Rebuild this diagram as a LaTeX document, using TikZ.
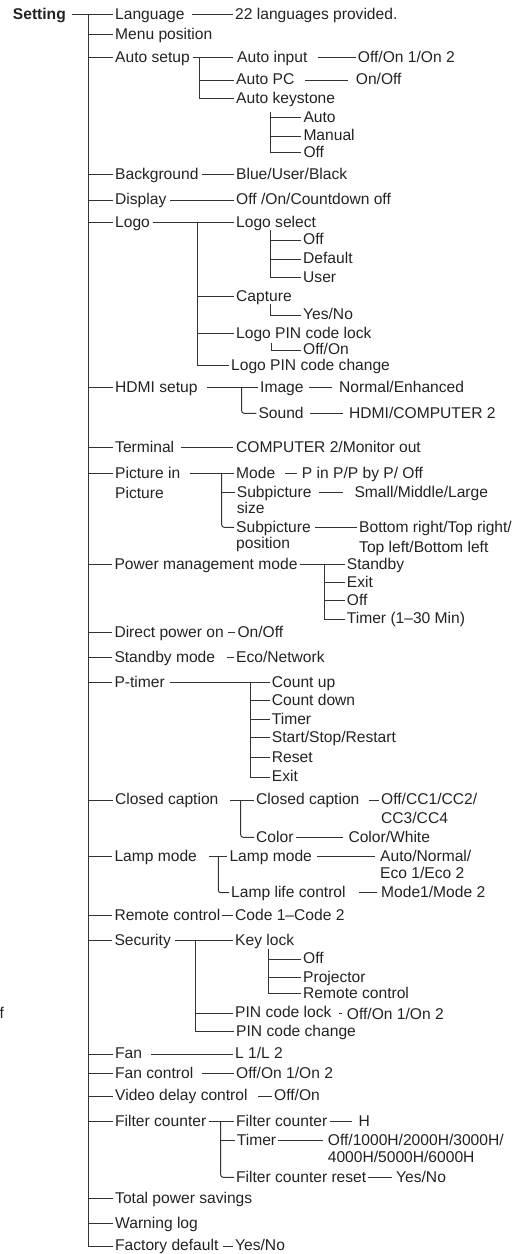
\documentclass[tikz,border=0pt]{standalone}
\usepackage{fontspec}
\setmainfont{Liberation Sans}
\usepackage{xcolor}
\usepackage{tikz}
\definecolor{menuInk}{HTML}{232323}
\definecolor{menuRule}{HTML}{333333}
\newcommand{\menufont}{\fontsize{15.6pt}{17.5pt}\selectfont}
\newcommand{\twolines}[3][0pt]{\begin{tabular}[t]{@{}l@{}}#2\\[#1]#3\end{tabular}}

\begin{document}
\begin{tikzpicture}[
  x=1pt, y=-1pt,
  item/.style={anchor=west, inner xsep=2pt, inner ysep=0pt, text height=9.4pt, text depth=0pt, text=menuInk, font=\menufont},
  root/.style={item, anchor=east, font=\menufont\bfseries},
  link/.style={draw=menuRule, line width=1pt},
  elbow/.style={link, rounded corners=2.5pt}
]
\useasboundingbox (0,0) rectangle (527,1254);

% Root and trunk
\node[root] (setting) at (68,14.3) {Setting};
\coordinate (trunk) at (88.3,14.3);

% First level
\node[item] (lang) at (113,14.3) {Language};
\node[item] (menupos) at (113,34.3) {Menu position};
\node[item] (autosetup) at (113,57.3) {Auto setup};
\node[item] (backgr) at (113,174.3) {Background};
\node[item] (display) at (113,200) {Display};
\node[item] (logo) at (113,222.7) {Logo};
\node[item] (hdmi) at (113,387.3) {HDMI setup};
\node[item] (terminal) at (113,447.7) {Terminal};
\node[item] (pip) at (113,473.3) {\twolines[2.5pt]{Picture in}{Picture}};
\node[item] (powermgmt) at (112.3,564.3) {Power management mode};
\node[item] (directon) at (112.3,632.3) {Direct power on};
\node[item] (standby) at (112.3,657.3) {Standby mode};
\node[item] (ptimer) at (112.3,682.3) {P-timer};
\node[item] (ccap) at (113,800) {Closed caption};
\node[item] (lamp) at (112.3,856.7) {Lamp mode};
\node[item] (remote) at (112.3,915.7) {Remote control};
\node[item] (security) at (112.3,940.7) {Security};
\node[item] (fan) at (113,1054) {Fan};
\node[item] (fanctl) at (113,1073.3) {Fan control};
\node[item] (videodelay) at (113,1096) {Video delay control};
\node[item] (filter) at (113,1121.7) {Filter counter};
\node[item] (totalpower) at (113,1198.3) {Total power savings};
\node[item] (warnlog) at (113,1223.3) {Warning log};
\node[item] (factory) at (113,1246) {Factory default};

\draw[link, shorten <=3.7pt] (setting.east) -- (lang.west);
\draw[link] (trunk) |- (factory.west);
\draw[link] (trunk |- menupos.west) -- (menupos.west);
\draw[link] (trunk |- autosetup.west) -- (autosetup.west);
\draw[link] (trunk |- backgr.west) -- (backgr.west);
\draw[link] (trunk |- display.west) -- (display.west);
\draw[link] (trunk |- logo.west) -- (logo.west);
\draw[link] (trunk |- hdmi.west) -- (hdmi.west);
\draw[link] (trunk |- terminal.west) -- (terminal.west);
\draw[link] (trunk |- pip.west) -- (pip.west);
\draw[link] (trunk |- powermgmt.west) -- (powermgmt.west);
\draw[link] (trunk |- directon.west) -- (directon.west);
\draw[link] (trunk |- standby.west) -- (standby.west);
\draw[link] (trunk |- ptimer.west) -- (ptimer.west);
\draw[link] (trunk |- ccap.west) -- (ccap.west);
\draw[link] (trunk |- lamp.west) -- (lamp.west);
\draw[link] (trunk |- remote.west) -- (remote.west);
\draw[link] (trunk |- security.west) -- (security.west);
\draw[link] (trunk |- fan.west) -- (fan.west);
\draw[link] (trunk |- fanctl.west) -- (fanctl.west);
\draw[link] (trunk |- videodelay.west) -- (videodelay.west);
\draw[link] (trunk |- filter.west) -- (filter.west);
\draw[link] (trunk |- totalpower.west) -- (totalpower.west);
\draw[link] (trunk |- warnlog.west) -- (warnlog.west);

% Single values
\node[item] (langval) at (233,14.3) {22 languages provided.};
\draw[link, shorten <=5.3pt] (lang.east) -- (langval.west);
\node[item] (backval) at (234,174.3) {Blue/User/Black};
\draw[link, shorten <=1.2pt] (backgr.east) -- (backval.west);
\node[item] (dispval) at (234,200) {Off /On/Countdown off};
\draw[link, shorten <=1.5pt] (display.east) -- (dispval.west);
\node[item] (termval) at (234,447.7) {COMPUTER 2/Monitor out};
\draw[link, shorten <=5pt, shorten >=1.3pt] (terminal.east) -- (termval.west);
\node[item] (directval) at (235.3,632.3) {On/Off};
\draw[link, shorten <=2pt] (directon.east) -- (directval.west);
\node[item] (standbyval) at (234,657.3) {Eco/Network};
\draw[link, shorten <=9.4pt] (standby.east) -- (standbyval.west);
\node[item] (remoteval) at (233,915.7) {Code 1–Code 2};
\draw[link] (remote.east) -- (remoteval.west);
\node[item] (fanval) at (233,1054) {L 1/L 2};
\draw[link, shorten <=6.8pt] (fan.east) -- (fanval.west);
\node[item] (fanctlval) at (234,1073.3) {Off/On 1/On 2};
\draw[link, shorten <=6.7pt] (fanctl.east) -- (fanctlval.west);
\node[item] (videoval) at (272,1096) {Off/On};
\draw[link, shorten <=8pt] (videodelay.east) -- (videoval.west);
\node[item] (factoryval) at (233,1246) {Yes/No};
\draw[link, shorten <=2.5pt] (factory.east) -- (factoryval.west);

% Auto setup
\node[item] (autoinput) at (235,57.3) {Auto input};
\node[item] (autopc) at (234,80) {Auto PC};
\node[item] (autokey) at (234,98.3) {Auto keystone};
\coordinate (setupfork) at (199,57.3);
\draw[link, shorten <=1.5pt, shorten >=2pt] (autosetup.east) -- (autoinput.west);
\draw[link] (setupfork |- autopc.west) -- (autopc.west);
\draw[link] (setupfork) |- (autokey.west);
\node[item] (autoinputval) at (355.7,57.3) {Off/On 1/On 2};
\draw[link, shorten <=8.8pt] (autoinput.east) -- (autoinputval.west);
\node[item] (autopcval) at (353.7,80) {On/Off};
\draw[link, shorten <=8.9pt, shorten >=5.7pt] (autopc.east) -- (autopcval.west);
\node[item] (keyauto) at (301.3,117.3) {Auto};
\node[item] (keymanual) at (301.3,136) {Manual};
\node[item] (keyoff) at (301.3,152.7) {Off};
\coordinate (keyfork) at (270.7,111.7);
\draw[link] (keyfork) |- (keyoff.west);
\draw[link] (keyfork |- keyauto.west) -- (keyauto.west);
\draw[link] (keyfork |- keymanual.west) -- (keymanual.west);

% Logo
\node[item] (logosel) at (234,222.7) {Logo select};
\node[item] (capture) at (234,296.7) {Capture};
\node[item] (logopin) at (234,333.3) {Logo PIN code lock};
\node[item] (logopinchg) at (229,365.7) {Logo PIN code change};
\coordinate (logofork) at (197.3,222.7);
\draw[link, shorten <=0.8pt] (logo.east) -- (logosel.west);
\draw[link] (logofork |- capture.west) -- (capture.west);
\draw[link] (logofork |- logopin.west) -- (logopin.west);
\draw[link] (logofork) |- (logopinchg.west);
\node[item] (lsoff) at (301,240) {Off};
\node[item] (lsdefault) at (301,259) {Default};
\node[item] (lsuser) at (301,277.7) {User};
\coordinate (selfork) at (270,230);
\draw[link] (selfork) |- (lsuser.west);
\draw[link] (selfork |- lsoff.west) -- (lsoff.west);
\draw[link] (selfork |- lsdefault.west) -- (lsdefault.west);
\node[item] (capyes) at (301,315) {Yes/No};
\coordinate (capfork) at (270.7,304);
\draw[link] (capfork) |- (capyes.west);
\node[item] (logopinval) at (301,350) {Off/On};
\coordinate (lockfork) at (271.7,342.7);
\draw[link] (lockfork) |- (logopinval.west);

% HDMI setup
\node[item] (hdmiimg) at (258,387.3) {Image};
\node[item] (hdmisnd) at (256.3,413.3) {Sound};
\coordinate (hdmifork) at (241.7,387.3);
\draw[link, shorten <=7.4pt] (hdmi.east) -- (hdmiimg.west);
\draw[elbow] (hdmifork) |- (hdmisnd.west);
\node[item] (imgval) at (337,387.3) {Normal/Enhanced};
\draw[link, shorten <=3.6pt, shorten >=4.7pt] (hdmiimg.east) -- (imgval.west);
\node[item] (sndval) at (347,413.3) {HDMI/COMPUTER 2};
\draw[link, shorten <=4.6pt, shorten >=3.7pt] (hdmisnd.east) -- (sndval.west);

% Picture in Picture
\node[item] (pipmode) at (234,473.3) {Mode};
\node[item] (pipsize) at (234.7,492.3) {\twolines[-0.8pt]{Subpicture}{size}};
\node[item] (pippos) at (234,527.3) {\twolines[-1.5pt]{Subpicture}{position}};
\coordinate (pipfork) at (221.7,473.3);
\draw[link, shorten <=7.6pt] (pip.east) -- (pipmode.west);
\draw[link] (pipfork |- pipsize.west) -- (pipsize.west);
\draw[elbow] (pipfork) |- (pippos.west);
\node[item] (modeval) at (299.7,473.3) {P in P/P by P/ Off};
\draw[link, shorten <=8pt, shorten >=3pt] (pipmode.east) -- (modeval.west);
\node[item] (sizeval) at (352.3,492.3) {Small/Middle/Large};
\draw[link, shorten <=5pt, shorten >=9pt] (pipsize.east) -- (sizeval.west);
\node[item] (posval) at (357,527.3) {\twolines[2.9pt]{Bottom right/Top right/}{Top left/Bottom left}};
\draw[link, shorten <=2.4pt] (pippos.east) -- (posval.west);

% Power management mode
\node[item] (pmstandby) at (344.7,564.3) {Standby};
\node[item] (pmexit) at (344.7,582.3) {Exit};
\node[item] (pmoff) at (344.7,600.7) {Off};
\node[item] (pmtimer) at (344.7,619) {Timer (1–30 Min)};
\coordinate (pmfork) at (324,564.3);
\draw[link] (powermgmt.east) -- (pmstandby.west);
\draw[link] (pmfork |- pmexit.west) -- (pmexit.west);
\draw[link] (pmfork |- pmoff.west) -- (pmoff.west);
\draw[link] (pmfork) |- (pmtimer.west);

% P-timer
\node[item] (ptup) at (269.7,682.3) {Count up};
\node[item] (ptdown) at (269.7,700.7) {Count down};
\node[item] (pttimer) at (269.7,719.3) {Timer};
\node[item] (ptstart) at (269.7,737.5) {Start/Stop/Restart};
\node[item] (ptreset) at (269.7,757.5) {Reset};
\node[item] (ptexit) at (269.7,777) {Exit};
\coordinate (ptfork) at (250,682.3);
\draw[link, shorten <=2.7pt] (ptimer.east) -- (ptup.west);
\draw[link] (ptfork |- ptdown.west) -- (ptdown.west);
\draw[link] (ptfork |- pttimer.west) -- (pttimer.west);
\draw[link] (ptfork |- ptstart.west) -- (ptstart.west);
\draw[link] (ptfork |- ptreset.west) -- (ptreset.west);
\draw[link] (ptfork) |- (ptexit.west);

% Closed caption
\node[item] (ccsub) at (254,800) {Closed caption};
\node[item] (cccolor) at (254,837.3) {Color};
\coordinate (ccfork) at (240.7,800);
\draw[link, shorten <=9.8pt] (ccap.east) -- (ccsub.west);
\draw[elbow] (ccfork) |- (cccolor.west);
\node[item] (ccsubval) at (379,800) {\twolines[1pt]{Off/CC1/CC2/}{CC3/CC4}};
\draw[link, shorten <=7.1pt] (ccsub.east) -- (ccsubval.west);
\node[item] (colorval) at (346.3,837.3) {Color/White};
\draw[link, shorten <=0.4pt, shorten >=3pt] (cccolor.east) -- (colorval.west);

% Lamp mode
\node[item] (lampsub) at (227.3,856.7) {Lamp mode};
\node[item] (lamplife) at (229,892.7) {Lamp life control};
\coordinate (lampfork) at (218.3,856.7);
\draw[link, shorten <=9.6pt] (lamp.east) -- (lampsub.west);
\draw[elbow] (lampfork) |- (lamplife.west);
\node[item] (lampsubval) at (378,856.7) {\twolines{Auto/Normal/}{Eco 1/Eco 2}};
\draw[link, shorten <=3pt, shorten >=3pt] (lampsub.east) -- (lampsubval.west);
\node[item] (lamplifeval) at (379,892.7) {Mode1/Mode 2};
\draw[link, shorten <=11.6pt, shorten >=2.3pt] (lamplife.east) -- (lamplifeval.west);

% Security
\node[item] (keylock) at (233,940.7) {Key lock};
\node[item] (pinlock) at (233,1013) {PIN code lock};
\node[item] (pinchange) at (234,1031.7) {PIN code change};
\coordinate (secfork) at (195.7,940.7);
\draw[link, shorten <=1.6pt] (security.east) -- (keylock.west);
\draw[link] (secfork |- pinlock.west) -- (pinlock.west);
\draw[link] (secfork) |- (pinchange.west);
\node[item] (klf) at (301,959) {Off};
\node[item] (klproj) at (301,977.3) {Projector};
\node[item] (klremote) at (301,993.3) {Remote control};
\coordinate (keylockfork) at (268.3,949.3);
\draw[link] (keylockfork) |- (klremote.west);
\draw[link] (keylockfork |- klf.west) -- (klf.west);
\draw[link] (keylockfork |- klproj.west) -- (klproj.west);
\node[item] (pinlockval) at (344.7,1014.8) {Off/On 1/On 2};
\draw[link, shorten <=5pt, shorten >=2.4pt] (pinlock.east) -- (pinlock.east -| pinlockval.west);
\node[item] (edgef) at (-2.5,1014) {f};

% Filter counter
\node[item] (filtersub) at (234,1121.7) {Filter counter};
\node[item] (filtertimer) at (234.7,1140.7) {Timer};
\node[item] (filterreset) at (234,1177.3) {Filter counter reset};
\coordinate (filterfork) at (220.7,1121.7);
\draw[link, shorten <=0.6pt] (filter.east) -- (filtersub.west);
\draw[link] (filterfork |- filtertimer.west) -- (filtertimer.west);
\draw[elbow] (filterfork) |- (filterreset.west);
\node[item] (filtersubval) at (356.3,1121.7) {H};
\draw[link, shorten <=1pt, shorten >=4pt] (filtersub.east) -- (filtersubval.west);
\node[item] (timerval) at (325.7,1140.7) {\twolines{Off/1000H/2000H/3000H/}{4000H/5000H/6000H}};
\draw[link, shorten >=2.4pt] (filtertimer.east) -- (timerval.west);
\node[item] (resetval) at (394,1177.3) {Yes/No};
\draw[link, shorten >=2.3pt] (filterreset.east) -- (resetval.west);

\end{tikzpicture}
\end{document}
